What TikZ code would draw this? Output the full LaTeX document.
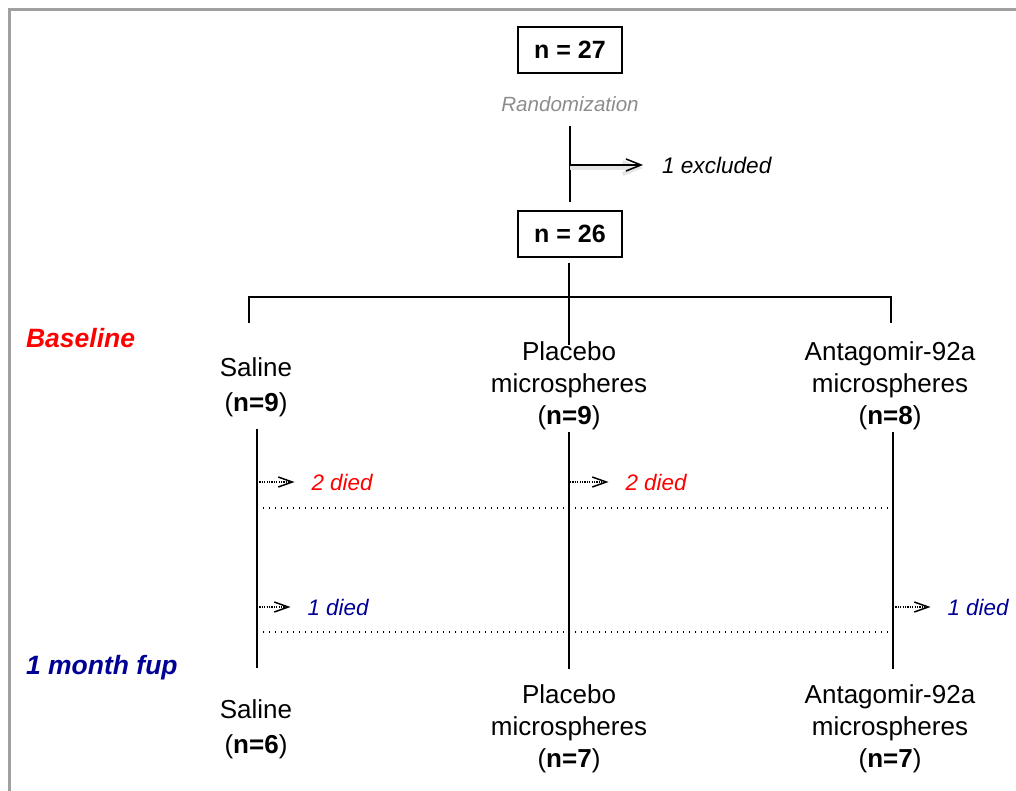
\documentclass[tikz,border=0pt]{standalone}
\usepackage{fontspec}
\setmainfont{Liberation Sans}
\usetikzlibrary{arrows.meta}
\definecolor{fupblue}{RGB}{0,0,150}
\definecolor{framegray}{RGB}{160,160,160}
\definecolor{randgray}{RGB}{140,140,140}
\begin{document}
\begin{tikzpicture}[x=0.5pt,y=-0.5pt,
  nbox/.style={draw,line width=1pt,minimum width=52pt,minimum height=23pt,
    font=\fontsize{12.5}{15}\selectfont\bfseries},
  grp/.style={align=center,font=\fontsize{13}{16}\selectfont},
  stage/.style={anchor=west,font=\fontsize{13.25}{15}\selectfont\bfseries\itshape},
  died/.style={anchor=west,font=\fontsize{11.2}{13}\selectfont\itshape},
  solidline/.style={line width=0.75pt},
  exclarrow/.style={-{Straight Barb[length=7.5pt,width=6pt]},shorten >=6pt},
  dotarrow/.style={line width=0.75pt,dash pattern=on 0.6pt off 0.6pt,
    -{Straight Barb[length=7pt,width=5pt]},shorten >=5pt},
  dotline/.style={line width=0.6pt,dash pattern=on 0.6pt off 2.4pt}
]
  \useasboundingbox (0,0) rectangle (1016,791);
  \draw[framegray,line width=1.5pt] (9.5,791) -- (9.5,10) -- (1016,10);

  \node[nbox] (n27) at (570,50) {n = 27};
  \node[font=\fontsize{10.3}{12}\selectfont\itshape,text=randgray] (rand) at (570,104) {Randomization};
  \node[nbox] (n26) at (570,234) {n = 26};
  \node[died,font=\fontsize{11.3}{13}\selectfont\itshape] (excl) at (655,165) {1 excluded};
  \coordinate (rtop) at (570,126);
  \coordinate (exc) at (570,165);
  \draw[solidline,shorten >=4pt] (rtop) -- (n26.north);
  \draw[exclarrow,gray!20,line width=2pt,transform canvas={yshift=-1.5pt}] (exc) -- (excl.west);
  \draw[solidline,exclarrow] (exc) -- (excl.west);

  \node[stage,text=red] (base) at (19,338) {Baseline};
  \node[grp] (sb) at (256,387) {Saline\\[1.5pt](\textbf{n=9})};
  \node[grp] (pb) at (569,386) {Placebo\\microspheres\\(\textbf{n=9})};
  \node[grp] (ab) at (890,386) {Antagomir-92a\\microspheres\\(\textbf{n=8})};

  \coordinate (brL) at (249,297);
  \coordinate (brR) at (891,297);
  \draw[solidline,shorten <=2.5pt,shorten >=-5pt] ([xshift=-0.5pt]n26.south) -- ([xshift=-0.5pt]n26.south |- pb.north);
  \draw[solidline] (brL) ++(0,26) -- (brL) -- (brR) -- ++(0,26);

  \node[stage,text=fupblue] (fup) at (19,668) {1 month fup};
  \node[grp] (sf) at (256,729) {Saline\\[1.5pt](\textbf{n=6})};
  \node[grp] (pf) at (569,729) {Placebo\\microspheres\\(\textbf{n=7})};
  \node[grp] (af) at (890,729) {Antagomir-92a\\microspheres\\(\textbf{n=7})};

  \draw[solidline,shorten <=2.5pt,shorten >=12pt] ([xshift=0.5pt]sb.south) -- ([xshift=0.5pt]sf.north);
  \draw[solidline,shorten <=-2.5pt,shorten >=4.5pt] (pb.south) -- (pf.north);
  \draw[solidline,shorten <=-2.5pt,shorten >=4.5pt] ([xshift=1.5pt]ab.south) -- ([xshift=1.5pt]af.north);

  \coordinate (s1) at (257,482);
  \coordinate (p1) at (570,482);
  \coordinate (s2) at (257,607);
  \coordinate (a2) at (893,607);
  \node[died,text=red] (sd1) at (304.5,482) {2 died};
  \node[died,text=red] (pd1) at (618.5,482) {2 died};
  \node[died,text=fupblue] (sd2) at (300.5,607) {1 died};
  \node[died,text=fupblue] (ad2) at (940.5,607) {1 died};
  \draw[dotarrow] (s1) -- (sd1.west);
  \draw[dotarrow] (p1) -- (pd1.west);
  \draw[dotarrow] (s2) -- (sd2.west);
  \draw[dotarrow] (a2) -- (ad2.west);

  \coordinate (dl1) at (257,508);
  \coordinate (dr1) at (893,508);
  \coordinate (dl2) at (257,632);
  \coordinate (dr2) at (893,632);
  \draw[dotline] (dl1) -- (dr1);
  \draw[dotline] (dl2) -- (dr2);
\end{tikzpicture}
\end{document}
